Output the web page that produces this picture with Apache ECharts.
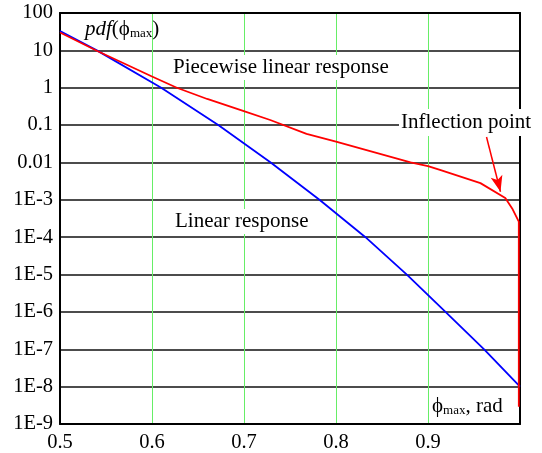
<!DOCTYPE html>
<html><head><meta charset="utf-8">
<script src="https://cdn.jsdelivr.net/npm/echarts@6/dist/echarts.min.js"></script>
<style>html,body{margin:0;padding:0;background:#fff}#c{width:542px;height:453px}</style>
</head><body><div id="c"></div>
<script>
// x tick labels (last tick at 1.0 is unlabeled)
var xTickLabels = ['0.5', '0.6', '0.7', '0.8', '0.9', ''];
// y tick labels by decade exponent
var yTickLabels = {'-9':'1E-9','-8':'1E-8','-7':'1E-7','-6':'1E-6','-5':'1E-5','-4':'1E-4','-3':'1E-3','-2':'0.01','-1':'0.1','0':'1','1':'10','2':'100'};

// Linear response (blue)
var linearX = [0.500, 0.540, 0.610, 0.672, 0.729, 0.782, 0.832, 0.877, 0.919, 0.961, 1.000];
var linearY = [33, 10, 1, 0.1, 1e-2, 1e-3, 1e-4, 1e-5, 1e-6, 1e-7, 1e-8];

// Piecewise linear response (red)
var pieceX = [0.500, 0.540, 0.600, 0.627, 0.660, 0.699, 0.7285, 0.768, 0.800, 0.881, 0.900, 0.913, 0.957, 0.984, 0.9915, 0.9987, 0.9987];
var pieceY = [30, 9.8, 2.0, 1.0, 0.5, 0.24, 0.137, 0.058, 0.036, 0.010, 0.008, 0.0063, 0.0028, 0.00112, 0.00059, 0.00026, 2.9e-9];

// Inflection point arrow (tail, tip) in data units
var arrowFrom = [0.9636, 0.048];
var arrowTo = [0.9788, 0.00165];

function zip(a, b) { return a.map(function (v, i) { return [v, b[i]]; }); }

var FONT = '"Liberation Serif", "Times New Roman", serif';
var chart = echarts.init(document.getElementById('c'), null, {renderer: 'canvas'});
chart.setOption({
  animation: false,
  backgroundColor: '#fff',
  grid: {left: 60, right: 22, top: 13, bottom: 29, show: false},
  xAxis: [{
    type: 'value', min: 0.5, max: 1.0, interval: 0.1,
    axisLine: {show: true, lineStyle: {color: '#000', width: 2}},
    axisTick: {show: false},
    axisLabel: {color: '#000', fontFamily: FONT, fontSize: 20.5, margin: 8,
      formatter: function (v) { var i = Math.round((v - 0.5) / 0.1); return xTickLabels[i] || ''; }},
    splitLine: {show: true, lineStyle: {color: '#66ee66', width: 1}}
  }, {
    type: 'value', min: 0.5, max: 1.0, position: 'top',
    axisLine: {show: true, onZero: false, lineStyle: {color: '#000', width: 2}},
    axisTick: {show: false}, axisLabel: {show: false}, splitLine: {show: false}
  }],
  yAxis: [{
    type: 'log', logBase: 10, min: 1e-9, max: 100, interval: 1,
    axisLine: {show: true, lineStyle: {color: '#000', width: 2}},
    axisTick: {show: false},
    axisLabel: {color: '#000', fontFamily: FONT, fontSize: 20.5, margin: 7,
      formatter: function (v) { return yTickLabels[String(Math.round(Math.log10(v)))] || ''; }},
    splitLine: {show: true, lineStyle: {color: '#111', width: 1.5}}
  }, {
    type: 'log', logBase: 10, min: 1e-9, max: 100, interval: 1, position: 'right',
    axisLine: {show: true, onZero: false, lineStyle: {color: '#000', width: 2}},
    axisTick: {show: false}, axisLabel: {show: false}, splitLine: {show: false}
  }],
  series: [{
    type: 'line', name: 'Linear response', data: zip(linearX, linearY),
    showSymbol: false, lineStyle: {color: '#0000ff', width: 1.8}, z: 3
  }, {
    type: 'line', name: 'Piecewise linear response', data: zip(pieceX, pieceY),
    showSymbol: false, lineStyle: {color: '#ff0000', width: 1.8}, z: 4,
    markLine: {
      silent: true, symbol: ['none', 'arrow'], symbolSize: [9, 16],
      lineStyle: {color: '#ff0000', width: 1.5, type: 'solid'},
      label: {show: false},
      data: [[{coord: arrowFrom}, {coord: arrowTo}]]
    }
  }],
  graphic: [
    {type: 'text', left: 85, top: 19, z: 100, style: {
      text: '{i|pdf}{n|(ϕ}{s|max}{n|)}', fill: '#000',
      rich: {
        i: {fontFamily: FONT, fontSize: 21, fontStyle: 'italic', fill: '#000', verticalAlign: 'bottom', lineHeight: 26},
        n: {fontFamily: FONT, fontSize: 21, fill: '#000', verticalAlign: 'bottom', lineHeight: 26},
        s: {fontFamily: FONT, fontSize: 13, fill: '#000', verticalAlign: 'bottom', lineHeight: 20}
      }}},
    {type: 'text', left: 170, top: 55, z: 100, style: {
      text: 'Piecewise linear response', fill: '#000', font: '21px ' + FONT,
      backgroundColor: '#fff', padding: [2, 3, 2, 3]}},
    {type: 'text', left: 171, top: 209, z: 100, style: {
      text: 'Linear response', fill: '#000', font: '21px ' + FONT,
      backgroundColor: '#fff', padding: [2, 4, 2, 4]}},
    {type: 'text', left: 399, top: 109, z: 100, style: {
      text: 'Inflection point', fill: '#000', font: '21px ' + FONT,
      backgroundColor: '#fff', padding: [3, 2, 3, 2]}},
    {type: 'text', left: 432, top: 396, z: 100, style: {
      text: '{n|ϕ}{s|max}{n|, rad}', fill: '#000',
      rich: {
        n: {fontFamily: FONT, fontSize: 21, fill: '#000', verticalAlign: 'bottom', lineHeight: 26},
        s: {fontFamily: FONT, fontSize: 13, fill: '#000', verticalAlign: 'bottom', lineHeight: 20}
      }}}
  ]
});
</script></body></html>
